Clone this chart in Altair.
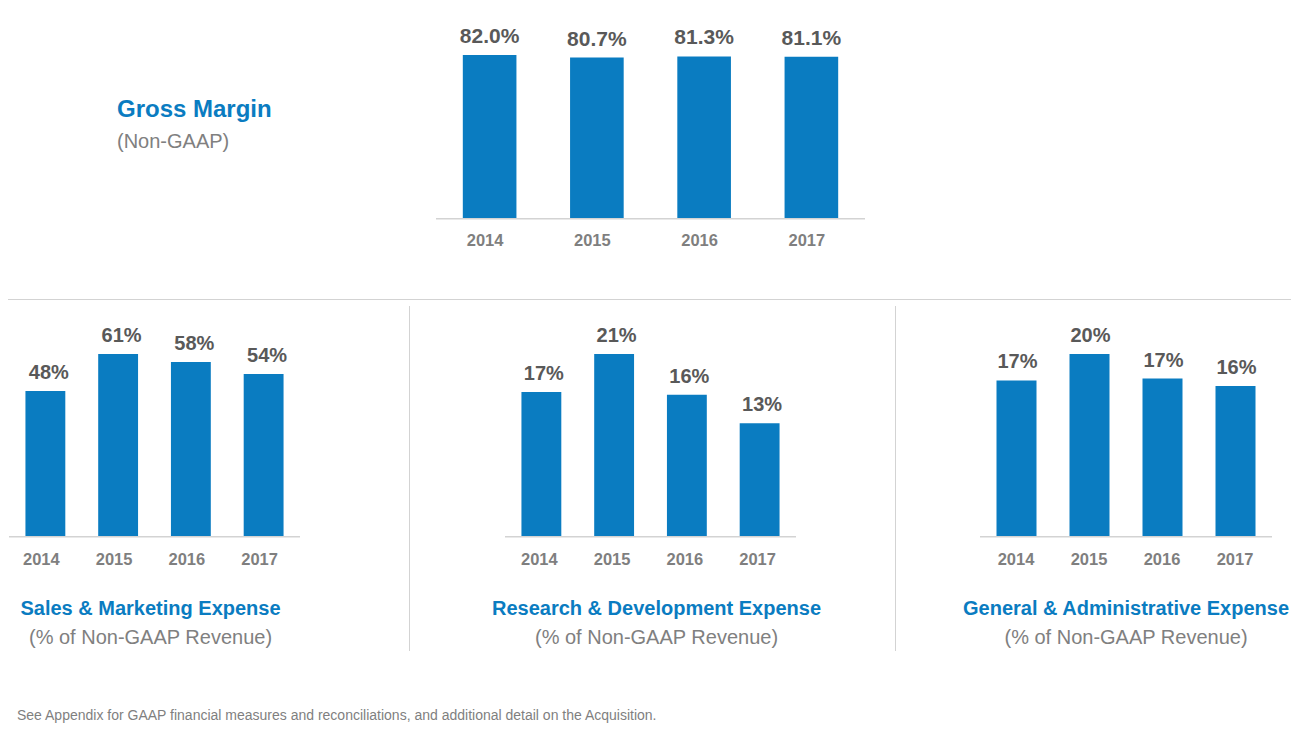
import altair as alt
import pandas as pd

# ---------------- data ----------------
years = ["2014", "2015", "2016", "2017"]

gm_values = [82.0, 80.7, 81.3, 81.1]
gm_labels = ["82.0%", "80.7%", "81.3%", "81.1%"]

sm_values = [48.3, 60.7, 58.0, 54.0]
sm_labels = ["48%", "61%", "58%", "54%"]

rd_values = [16.6, 21.0, 16.3, 13.0]
rd_labels = ["17%", "21%", "16%", "13%"]

ga_values = [17.0, 19.9, 17.2, 16.4]
ga_labels = ["17%", "20%", "17%", "16%"]

gm_title = "Gross Margin"
gm_subtitle = "(Non-GAAP)"
bottom_titles = ["Sales & Marketing Expense", "Research & Development Expense",
                 "General & Administrative Expense"]
bottom_subtitle = "(% of Non-GAAP Revenue)"
footnote = "See Appendix for GAAP financial measures and reconciliations, and additional detail on the Acquisition."

# ---------------- style ----------------
BLUE = "#0a7cc1"
LABEL_GRAY = "#595959"
YEAR_GRAY = "#7f7f7f"
SUB_GRAY = "#808080"
LINE_GRAY = "#d3d3d3"
FONT = "Liberation Sans"


def panel(values, labels, x_range, y_base, y_domain_max, px_per_unit,
          p_inner, p_outer, year_y, label_size, label_dx, year_dx):
    df = pd.DataFrame({"year": years, "value": values, "label": labels})
    xs = alt.X("year:N", sort=years, axis=None,
               scale=alt.Scale(range=x_range, paddingInner=p_inner, paddingOuter=p_outer))
    ys = alt.Y("value:Q", axis=None,
               scale=alt.Scale(domain=[0, y_domain_max],
                               range=[y_base, y_base - y_domain_max * px_per_unit],
                               nice=False, zero=True))
    base = alt.Chart(df).encode(x=xs, y=ys)
    bars = base.mark_bar(color=BLUE)
    vals = base.mark_text(dy=-12, dx=label_dx, baseline="alphabetic", font=FONT,
                          fontWeight="bold", fontSize=label_size,
                          color=LABEL_GRAY).encode(text="label:N")
    yrs = alt.Chart(df).mark_text(baseline="alphabetic", dx=year_dx, font=FONT,
                                  fontWeight="bold", fontSize=16.5,
                                  color=YEAR_GRAY).encode(
        x=xs, y=alt.value(year_y), text="year:N")
    rule = alt.Chart(df.head(1)).mark_rule(color=LINE_GRAY, strokeWidth=1.5).encode(
        x=alt.value(x_range[0]), x2=alt.value(x_range[1]), y=alt.value(y_base + 0.75))
    return alt.layer(rule, bars, vals, yrs)


top = panel(gm_values, gm_labels, [428, 857], 210, 100, 1.988, 0.5, 0.25, 238, 21, 0, -4.5)
p1 = panel(sm_values, sm_labels, [1, 292], 528, 100, 3.0, 0.452, 0.226, 557, 20, 3.5, -4)
p2 = panel(rd_values, rd_labels, [497, 788], 528, 25, 8.67, 0.452, 0.226, 557, 20, 2.5, -2)
p3 = panel(ga_values, ga_labels, [972, 1264], 528, 20, 9.15, 0.452, 0.226, 557, 20, 1, -0.5)


def text_layer(txt, x, y, size, color, weight="normal", align="left"):
    return alt.Chart(pd.DataFrame({"t": [txt]})).mark_text(
        align=align, baseline="alphabetic", font=FONT, fontSize=size,
        fontWeight=weight, color=color).encode(x=alt.value(x), y=alt.value(y), text="t:N")


texts = [
    text_layer(gm_title, 109, 109, 24, BLUE, "bold"),
    text_layer(gm_subtitle, 109, 140, 20, SUB_GRAY),
    text_layer(footnote, 9, 712, 14, YEAR_GRAY),
]
centers = [142.5, 648.5, 1118]
for c, t in zip(centers, bottom_titles):
    texts.append(text_layer(t, c, 607, 20, BLUE, "bold", "center"))
    texts.append(text_layer(bottom_subtitle, c, 636, 20, SUB_GRAY, "normal", "center"))

sep_df = pd.DataFrame({"k": [0]})
hsep = alt.Chart(sep_df).mark_rule(color=LINE_GRAY, strokeWidth=1).encode(
    x=alt.value(-8), x2=alt.value(1291), y=alt.value(291.5))
vsep1 = alt.Chart(sep_df).mark_rule(color=LINE_GRAY, strokeWidth=1).encode(
    x=alt.value(401.5), y=alt.value(298), y2=alt.value(643))
vsep2 = alt.Chart(sep_df).mark_rule(color=LINE_GRAY, strokeWidth=1).encode(
    x=alt.value(887.5), y=alt.value(298), y2=alt.value(643))

chart = alt.layer(hsep, vsep1, vsep2, top, p1, p2, p3, *texts).resolve_scale(
    x="independent", y="independent"
).properties(
    width=1283, height=715, padding=0, autosize=alt.AutoSizeParams(type="none")
).configure_view(stroke=None)

chart.save("out.html", embed_options={"renderer": "svg", "actions": False})
